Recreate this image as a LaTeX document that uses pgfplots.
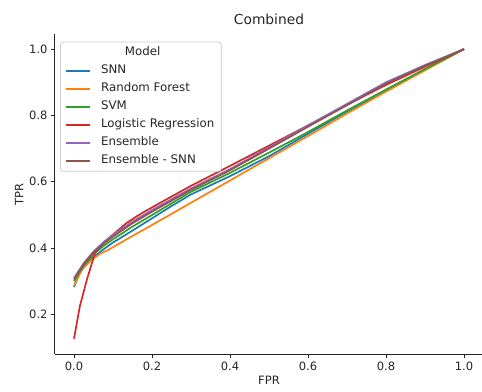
\documentclass[border=0pt]{standalone}
\usepackage{pgfplots}
\pgfplotsset{compat=1.18}
\usepackage{fontspec}
\setmainfont{DejaVu Sans}

\definecolor{snn}{HTML}{1F77B4}
\definecolor{rf}{HTML}{FF7F0E}
\definecolor{svm}{HTML}{2CA02C}
\definecolor{lr}{HTML}{D62728}
\definecolor{ens}{HTML}{9467BD}
\definecolor{enssnn}{HTML}{8C564B}
\definecolor{ink}{HTML}{262626}

\newcommand{\tickfont}{\fontsize{11.5bp}{13.8bp}\selectfont}
\newcommand{\legfont}{\fontsize{11.8bp}{14bp}\selectfont}
\newcommand{\titlefont}{\fontsize{13.8bp}{16.5bp}\selectfont}

\begin{document}
\begin{tikzpicture}
\path[use as bounding box] (-54.5bp,-38bp) rectangle (427.5bp,354bp);
\begin{axis}[
  at={(0,0)}, anchor=south west,
  scale only axis,
  width=429bp, height=319.5bp,
  xmin=-0.05, xmax=1.05,
  ymin=0.081, ymax=1.044,
  axis x line*=bottom, axis y line*=left,
  axis line style={ink, line width=0.8bp},
  every tick/.style={ink, line width=0.8bp},
  tick align=outside, major tick length=3.5bp,
  xtick={0,0.2,0.4,0.6,0.8,1.0},
  ytick={0.2,0.4,0.6,0.8,1.0},
  /pgf/number format/assume math mode=true,
  /pgf/number format/fixed, /pgf/number format/zerofill,
  /pgf/number format/precision=1,
  tick label style={font=\tickfont, text=ink},
  xticklabel style={yshift=-1bp},
  label style={font=\tickfont, text=ink},
  xlabel={FPR}, ylabel={TPR},
  xlabel style={yshift=1bp},
  ylabel style={yshift=-1bp},
  title={Combined},
  title style={font=\titlefont, text=ink},
  legend cell align=left,
  legend image code/.code={\draw[#1, line width=1.7bp] (0bp,0bp) -- (24bp,0bp);},
  legend style={
    at={(0,1)}, anchor=north west, xshift=5.5bp, yshift=-7.2bp,
    draw=black!20, line width=0.8bp, rounded corners=3bp,
    fill=white, fill opacity=0.8, text opacity=1,
    font=\legfont, text=ink,
    inner xsep=5bp, inner ysep=2.8bp,
    row sep=2.4bp, column sep=8bp,
    nodes={font=\legfont, text=ink, text height=8.9bp, text depth=2.7bp,
           inner ysep=2bp, inner xsep=2bp},
  },
  every axis plot/.append style={line width=1.7bp},
]
\addlegendimage{empty legend}
\addlegendentry{\hspace{23.8bp}Model}

% SNN
\addplot[snn] coordinates {
(0,0.283) (0.015,0.325) (0.03,0.350) (0.05,0.373) (0.075,0.396) (0.1,0.417)
(0.15,0.453) (0.2,0.490) (0.25,0.527) (0.3,0.562) (0.4,0.617) (0.5,0.677)
(0.6,0.745) (0.7,0.812) (0.8,0.875) (0.9,0.938) (1.0,1.0)};
\addlegendentry{SNN}

% Random Forest
\addplot[rf] coordinates {
(0,0.287) (0.02,0.335) (0.045,0.365) (0.067,0.383) (0.088,0.395) (0.1,0.403)
(0.15,0.437) (0.2,0.470) (0.3,0.537) (0.4,0.604) (0.5,0.671) (0.6,0.738)
(0.7,0.806) (0.8,0.872) (0.9,0.936) (1.0,1.0)};
\addlegendentry{Random Forest}

% SVM
\addplot[svm] coordinates {
(0,0.300) (0.02,0.340) (0.05,0.382) (0.075,0.406) (0.1,0.427) (0.15,0.465)
(0.2,0.500) (0.3,0.570) (0.4,0.627) (0.5,0.688) (0.6,0.750) (0.7,0.815)
(0.8,0.878) (0.9,0.940) (1.0,1.0)};
\addlegendentry{SVM}

% Logistic Regression
\addplot[lr] coordinates {
(0,0.127) (0.015,0.225) (0.033,0.305) (0.054,0.386) (0.079,0.420) (0.109,0.450)
(0.135,0.476) (0.161,0.496) (0.182,0.511) (0.22,0.536) (0.263,0.564) (0.3,0.588)
(0.4,0.648) (0.5,0.709) (0.6,0.770) (0.7,0.832) (0.8,0.892) (0.9,0.947) (1.0,1.0)};
\addlegendentry{Logistic Regression}

% Ensemble
\addplot[ens] coordinates {
(0,0.310) (0.025,0.355) (0.05,0.390) (0.075,0.417) (0.1,0.440) (0.15,0.480)
(0.2,0.515) (0.3,0.580) (0.4,0.638) (0.5,0.704) (0.6,0.770) (0.7,0.835)
(0.8,0.900) (0.9,0.952) (1.0,1.0)};
\addlegendentry{Ensemble}

% Ensemble without SNN
\addplot[enssnn] coordinates {
(0,0.305) (0.025,0.352) (0.05,0.387) (0.075,0.413) (0.1,0.435) (0.15,0.475)
(0.2,0.510) (0.3,0.576) (0.4,0.635) (0.5,0.700) (0.6,0.766) (0.7,0.831)
(0.8,0.896) (0.9,0.950) (1.0,1.0)};
\addlegendentry{Ensemble - SNN}
\end{axis}
\end{tikzpicture}
\end{document}
